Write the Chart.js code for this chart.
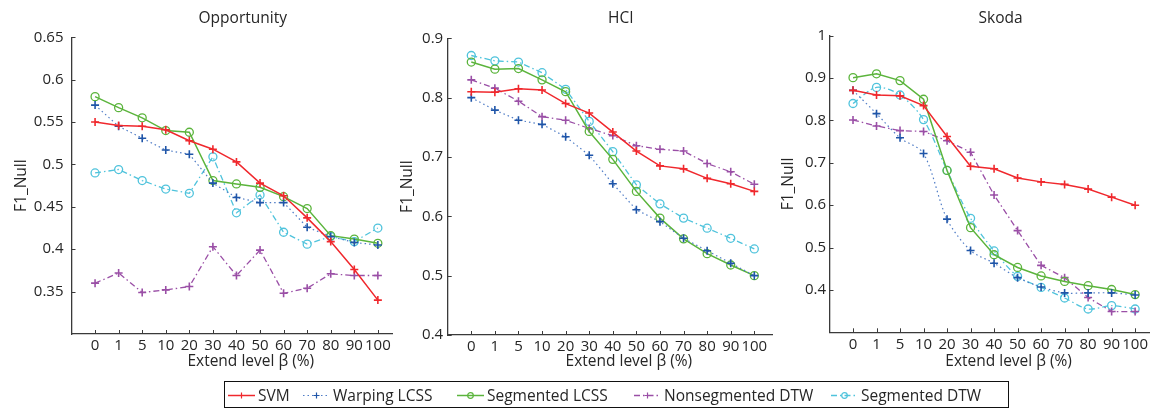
<!DOCTYPE html>
<html>
<head>
<meta charset="utf-8">
<script src="https://cdn.jsdelivr.net/npm/chart.js@4.4.1/dist/chart.umd.min.js"></script>
<style>
    body { margin: 0; background: #fff; width: 1151px; height: 409px; position: relative; overflow: hidden;
           font-family: "Open Sans", sans-serif; color: #262626; }
    .panel { position: absolute; top: 0; }
    #legend { position: absolute; left: 224px; top: 381px; width: 783px; height: 25px; border: 1px solid #111;
              font-size: 15.5px; }
    .item { position: absolute; top: 0; height: 25px; display: flex; align-items: center; white-space: nowrap; }
    .item canvas { margin-right: 3px; }
</style>
</head>
<body>
<div class="panel" style="left:0px"><canvas id="opp" width="400" height="409"></canvas></div>
<div class="panel" style="left:380px"><canvas id="hci" width="400" height="409"></canvas></div>
<div class="panel" style="left:760px"><canvas id="skoda" width="391" height="409"></canvas></div>
<div id="legend"></div>

<script>
// extend levels on the x axis
const categories = ["0", "1", "5", "10", "20", "30", "40", "50", "60", "70", "80", "90", "100"];
const seriesNames = ["SVM", "Warping LCSS", "Segmented LCSS", "Nonsegmented DTW", "Segmented DTW"];

// Opportunity
const svmOpp   = [0.550, 0.546, 0.545, 0.541, 0.528, 0.518, 0.503, 0.478, 0.463, 0.437, 0.409, 0.376, 0.340];
const wlcssOpp = [0.570, 0.545, 0.531, 0.517, 0.512, 0.478, 0.461, 0.455, 0.455, 0.426, 0.415, 0.408, 0.405];
const slcssOpp = [0.580, 0.567, 0.555, 0.540, 0.538, 0.481, 0.477, 0.473, 0.462, 0.448, 0.416, 0.412, 0.407];
const ndtwOpp  = [0.360, 0.372, 0.349, 0.352, 0.356, 0.403, 0.369, 0.399, 0.348, 0.354, 0.371, 0.369, 0.369];
const sdtwOpp  = [0.490, 0.494, 0.481, 0.471, 0.466, 0.509, 0.443, 0.464, 0.420, 0.406, 0.415, 0.409, 0.425];

// HCI
const svmHci   = [0.810, 0.809, 0.815, 0.813, 0.790, 0.774, 0.742, 0.710, 0.685, 0.680, 0.664, 0.655, 0.642];
const wlcssHci = [0.800, 0.779, 0.762, 0.755, 0.734, 0.703, 0.655, 0.611, 0.591, 0.563, 0.542, 0.521, 0.500];
const slcssHci = [0.860, 0.848, 0.849, 0.830, 0.810, 0.743, 0.696, 0.642, 0.597, 0.562, 0.537, 0.518, 0.500];
const ndtwHci  = [0.830, 0.816, 0.794, 0.768, 0.762, 0.748, 0.736, 0.719, 0.713, 0.710, 0.689, 0.675, 0.654];
const sdtwHci  = [0.871, 0.862, 0.860, 0.842, 0.814, 0.760, 0.709, 0.653, 0.621, 0.597, 0.580, 0.563, 0.545];

// Skoda
const svmSkoda   = [0.871, 0.860, 0.858, 0.835, 0.762, 0.692, 0.686, 0.664, 0.655, 0.649, 0.638, 0.619, 0.600];
const wlcssSkoda = [0.871, 0.816, 0.759, 0.722, 0.567, 0.493, 0.463, 0.429, 0.407, 0.393, 0.393, 0.393, 0.388];
const slcssSkoda = [0.901, 0.910, 0.894, 0.850, 0.682, 0.547, 0.483, 0.453, 0.433, 0.420, 0.410, 0.401, 0.389];
const ndtwSkoda  = [0.801, 0.787, 0.776, 0.774, 0.752, 0.725, 0.624, 0.540, 0.458, 0.429, 0.382, 0.349, 0.349];
const sdtwSkoda  = [0.840, 0.878, 0.860, 0.802, 0.682, 0.569, 0.492, 0.432, 0.406, 0.381, 0.355, 0.363, 0.355];

// y tick labels
const oppTicks   = [0.35, 0.4, 0.45, 0.5, 0.55, 0.6, 0.65];
const hciTicks   = [0.4, 0.5, 0.6, 0.7, 0.8, 0.9];
const skodaTicks = [0.4, 0.5, 0.6, 0.7, 0.8, 0.9, 1];

const FONT = '"Open Sans", sans-serif';
const TEXT = "#262626";
const AXIS = "#3a3a3a";
Chart.defaults.font.family = FONT;
Chart.defaults.font.size = 15;
Chart.defaults.color = TEXT;

// line styles, one per method
const styles = [
    { line: "#f0282d", mark: "#f0282d", shape: "cross",  dash: [],              width: 1.5 },
    { line: "#4f7cc6", mark: "#1f55a8", shape: "cross",  dash: [1.5, 3],        width: 1.2 },
    { line: "#5bb43c", mark: "#5bb43c", shape: "circle", dash: [],              width: 1.5 },
    { line: "#9a4fa6", mark: "#9a4fa6", shape: "cross",  dash: [6, 3, 1.5, 3],  width: 1.3 },
    { line: "#4fc3dc", mark: "#4fc3dc", shape: "circle", dash: [6, 3, 1.5, 3],  width: 1.3 }
];

function makeDatasets(seriesList, smooth) {
    return seriesList.map((vals, i) => {
        const s = styles[i];
        return {
            label: seriesNames[i],
            data: vals.map((v, k) => ({ x: k + 1, y: v })),
            borderColor: s.line,
            borderWidth: s.width,
            borderDash: s.dash,
            tension: smooth && smooth[i] ? 0.3 : 0,
            pointStyle: s.shape,
            pointRadius: 4,
            pointBorderWidth: s.shape === "cross" ? 1.6 : 1.3,
            pointBorderColor: s.mark,
            pointBackgroundColor: "rgba(0,0,0,0)"
        };
    });
}

// inward tick marks, panel title and x label
const panelDecor = {
    id: "panelDecor",
    afterDraw(chart, args, opts) {
        const { ctx, chartArea, scales: { x, y } } = chart;
        ctx.save();
        ctx.strokeStyle = AXIS;
        ctx.lineWidth = 1;
        ctx.beginPath();
        x.ticks.forEach(t => {
            const px = Math.round(x.getPixelForValue(t.value)) + 0.5;
            ctx.moveTo(px, chartArea.bottom);
            ctx.lineTo(px, chartArea.bottom - 4);
        });
        y.ticks.forEach(t => {
            const py = Math.round(y.getPixelForValue(t.value)) + 0.5;
            ctx.moveTo(chartArea.left, py);
            ctx.lineTo(chartArea.left + 4, py);
        });
        ctx.stroke();

        const mid = (chartArea.left + chartArea.right) / 2;
        ctx.fillStyle = TEXT;
        ctx.font = "15.5px " + FONT;
        ctx.textAlign = "center";
        ctx.textBaseline = "alphabetic";
        ctx.fillText(opts.title, mid + 11, 23);
        ctx.fillText("Extend level β (%)", mid + 19, 366);
        ctx.restore();
    }
};

function makePanel(id, title, seriesList, cfg) {
    return new Chart(document.getElementById(id), {
        type: "line",
        data: { datasets: makeDatasets(seriesList, cfg.smooth) },
        plugins: [panelDecor],
        options: {
            responsive: false,
            animation: false,
            layout: { autoPadding: false, padding: { left: 0, top: cfg.top, right: cfg.right, bottom: cfg.bottom } },
            plugins: {
                legend: { display: false },
                tooltip: { enabled: false },
                panelDecor: { title: title }
            },
            scales: {
                x: {
                    type: "linear",
                    min: 0,
                    max: cfg.xMax,
                    afterBuildTicks: s => { s.ticks = categories.map((c, i) => ({ value: i + 1 })); },
                    afterFit: s => { s.height = 30; },
                    ticks: {
                        autoSkip: false, maxRotation: 0, padding: 3,
                        callback: v => categories[v - 1]
                    },
                    grid: { display: true, drawOnChartArea: false, drawTicks: false },
                    border: { display: true, color: AXIS, width: 1.3 }
                },
                y: {
                    min: cfg.yMin,
                    max: cfg.yMax,
                    afterBuildTicks: s => { s.ticks = cfg.yTicks.map(v => ({ value: v })); },
                    afterFit: s => { s.width = cfg.yWidth; },
                    ticks: {
                        padding: cfg.tickPad,
                        callback: v => String(+v.toFixed(2))
                    },
                    title: {
                        display: true, text: "F1_Null",
                        font: { size: 15.5 },
                        padding: { top: cfg.titlePad, bottom: 0 }
                    },
                    grid: { display: true, drawOnChartArea: false, drawTicks: false },
                    border: { display: true, color: AXIS, width: 1.3 }
                }
            }
        }
    });
}

makePanel("opp", "Opportunity", [svmOpp, wlcssOpp, slcssOpp, ndtwOpp, sdtwOpp], {
    top: 37.3, right: 8, bottom: 45, xMax: 13.6,
    yMin: 0.3, yMax: 0.65, yTicks: oppTicks, yWidth: 71.5, tickPad: 8, titlePad: 12.4
});
makePanel("hci", "HCI", [svmHci, wlcssHci, slcssHci, ndtwHci, sdtwHci], {
    top: 38.3, right: 8, bottom: 44, xMax: 13.75,
    yMin: 0.4, yMax: 0.9, yTicks: hciTicks, yWidth: 67.7, tickPad: 4.5, titlePad: 18.2
});
makePanel("skoda", "Skoda", [svmSkoda, wlcssSkoda, slcssSkoda, ndtwSkoda, sdtwSkoda], {
    top: 35.7, right: 0, bottom: 46.7, xMax: 13.62,
    yMin: 0.3, yMax: 1, yTicks: skodaTicks, yWidth: 69.5, tickPad: 3.5, titlePad: 19.7,
    smooth: [false, true, false, false, true]
});

// shared legend under the three panels
const legendLefts = [3, 78, 232, 409, 606];
const legend = document.getElementById("legend");
seriesNames.forEach((name, i) => {
    const s = styles[i];
    const item = document.createElement("div");
    item.className = "item";
    item.style.left = legendLefts[i] + "px";
    const c = document.createElement("canvas");
    c.width = 27; c.height = 12;
    const g = c.getContext("2d");
    g.strokeStyle = s.line;
    g.lineWidth = s.width;
    g.setLineDash(s.dash);
    g.beginPath(); g.moveTo(0, 6.5); g.lineTo(27, 6.5); g.stroke();
    g.setLineDash([]);
    g.strokeStyle = s.mark;
    g.lineWidth = 1.2;
    g.beginPath();
    if (s.shape === "cross") {
        g.moveTo(10.5, 6.5); g.lineTo(16.5, 6.5);
        g.moveTo(13.5, 3.5); g.lineTo(13.5, 9.5);
    } else {
        g.arc(13.5, 6.5, 2.8, 0, Math.PI * 2);
    }
    g.stroke();
    const label = document.createElement("span");
    label.textContent = name;
    item.appendChild(c);
    item.appendChild(label);
    legend.appendChild(item);
});
</script>
</body>
</html>
